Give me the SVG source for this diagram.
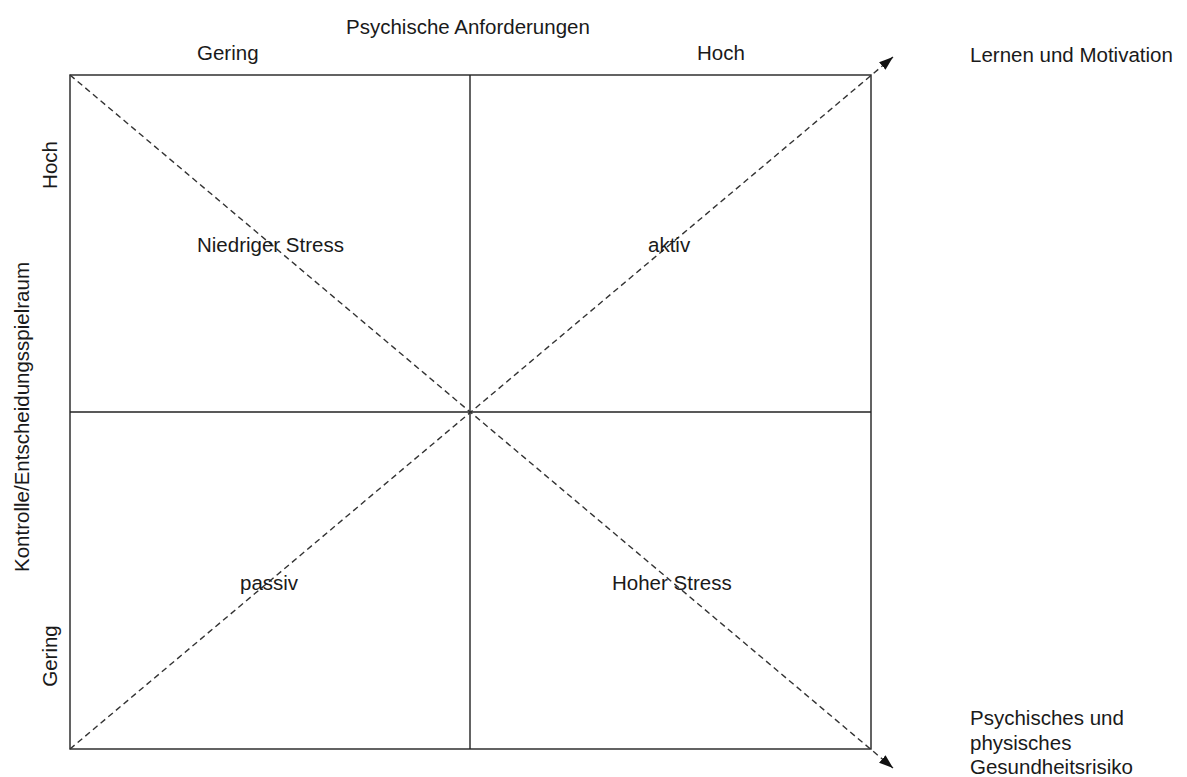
<svg xmlns="http://www.w3.org/2000/svg" width="1187" height="777" viewBox="0 0 1187 777">
<style>
text{font-family:"Liberation Sans",Arial,sans-serif;font-size:20.5px;fill:#1a1a1a}
.frame{fill:none;stroke:#222;stroke-width:1.4}
.dash{fill:none;stroke:#333;stroke-width:1.4;stroke-dasharray:6 4}
</style>
<defs>
<marker id="arr" markerUnits="userSpaceOnUse" markerWidth="16" markerHeight="12" refX="14" refY="5" orient="auto">
<path d="M0,0 L14,5 L0,10 z" fill="#111"/>
</marker>
</defs>
<rect width="1187" height="777" fill="#fff"/>
<g id="grid">
<rect class="frame" x="70" y="75" width="801" height="674"/>
<line class="frame" x1="470" y1="75" x2="470" y2="749"/>
<line class="frame" x1="70" y1="412" x2="871" y2="412"/>
</g>
<g id="connectors">
<line class="dash" x1="70" y1="75" x2="893" y2="768" marker-end="url(#arr)"/>
<line class="dash" x1="70" y1="749" x2="893" y2="57" marker-end="url(#arr)"/>
</g>
<g id="axis-top">
<text x="346" y="34">Psychische Anforderungen</text>
<text x="197" y="60">Gering</text>
<text x="697" y="60">Hoch</text>
</g>
<g id="axis-left">
<text transform="translate(57,165) rotate(-90)" text-anchor="middle">Hoch</text>
<text transform="translate(29,417) rotate(-90)" text-anchor="middle">Kontrolle/Entscheidungsspielraum</text>
<text transform="translate(57,656) rotate(-90)" text-anchor="middle">Gering</text>
</g>
<g id="outcomes">
<text x="970" y="62">Lernen und Motivation</text>
<text x="970" y="725">Psychisches und</text>
<text x="970" y="750">physisches</text>
<text x="970" y="774">Gesundheitsrisiko</text>
</g>
<g id="quadrants">
<text x="197" y="252">Niedriger Stress</text>
<text x="648" y="252">aktiv</text>
<text x="240" y="590">passiv</text>
<text x="612" y="590">Hoher Stress</text>
</g>
</svg>
